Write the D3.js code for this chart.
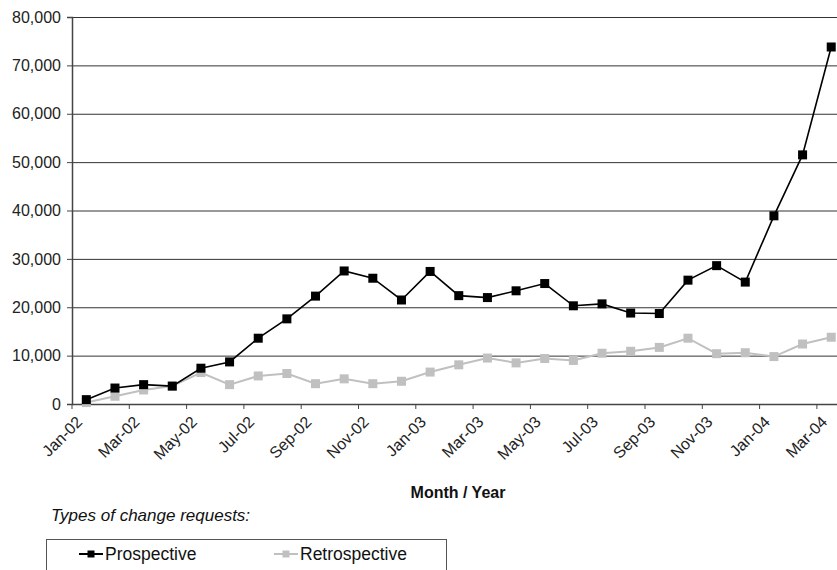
<!DOCTYPE html>
<html>
<head>
<meta charset="utf-8">
<script src="https://cdn.jsdelivr.net/npm/d3@7"></script>
<style>
  body { margin: 0; background: #fff; }
  svg { display: block; font-family: "Liberation Sans", Arial, sans-serif; }
</style>
</head>
<body>
<svg id="chart" width="837" height="570"></svg>
<script>
const months = ["Jan-02","Feb-02","Mar-02","Apr-02","May-02","Jun-02","Jul-02","Aug-02","Sep-02","Oct-02","Nov-02","Dec-02",
  "Jan-03","Feb-03","Mar-03","Apr-03","May-03","Jun-03","Jul-03","Aug-03","Sep-03","Oct-03","Nov-03","Dec-03",
  "Jan-04","Feb-04","Mar-04"];
const prospective = [900, 3300, 4000, 3700, 7400, 8700, 13600, 17600, 22300, 27500, 26000, 21500,
  27400, 22400, 22000, 23400, 24900, 20300, 20700, 18800, 18700, 25600, 28600, 25200,
  38900, 51500, 73800];
const retrospective = [300, 1600, 2900, 3700, 6500, 4000, 5800, 6300, 4200, 5200, 4200, 4700,
  6600, 8100, 9500, 8500, 9400, 9000, 10500, 10900, 11700, 13600, 10400, 10600,
  9800, 12400, 13800];
const yTicks = [0, 10000, 20000, 30000, 40000, 50000, 60000, 70000, 80000];
const xLabels = months.filter((d, i) => i % 2 === 0);

const m = { top: 17, left: 72, bottom: 404 };
const band = 28.65;
const w = months.length * band;
const font = "Liberation Sans, Arial, sans-serif";

const svg = d3.select("#chart");

const x = d3.scaleBand().domain(months).range([m.left, m.left + w]).padding(0);
const y = d3.scaleLinear().domain([0, 80000]).range([m.bottom, m.top]);
const cx = d => x(d) + x.bandwidth() / 2;

// gridlines
svg.append("g")
  .attr("transform", "translate(" + m.left + ",0)")
  .call(d3.axisLeft(y).tickValues(yTicks.slice(1)).tickSize(-w).tickFormat(""))
  .call(g => g.select(".domain").remove())
  .selectAll("line").attr("stroke", "#333").attr("stroke-width", 1);

// y axis
svg.append("g")
  .attr("transform", "translate(" + m.left + ",0)")
  .call(d3.axisLeft(y).tickValues(yTicks).tickSize(5).tickPadding(6).tickFormat(d3.format(",")))
  .call(g => g.select(".domain").attr("stroke", "#444").attr("stroke-width", 1.5))
  .call(g => g.selectAll("line").attr("stroke", "#444"))
  .call(g => g.selectAll("text").attr("font-size", 16).attr("fill", "#222").attr("font-family", font));

// x axis
const xAxis = svg.append("g")
  .attr("transform", "translate(0," + m.bottom + ")")
  .call(d3.axisBottom(x).tickValues(xLabels).tickSize(0).tickPadding(0))
  .call(g => g.select(".domain").attr("stroke", "#444").attr("stroke-width", 1.5));
xAxis.selectAll(".tick text")
  .attr("font-size", 16).attr("fill", "#222").attr("font-family", font)
  .attr("text-anchor", "end")
  .attr("dy", null).attr("y", 0)
  .attr("transform", "translate(-3,19) rotate(-45)");
xAxis.selectAll(".tick").each(function(d) {
  d3.select(this).append("line")
    .attr("x1", -x.bandwidth() / 2).attr("x2", -x.bandwidth() / 2)
    .attr("y1", 0).attr("y2", 5)
    .attr("stroke", "#444");
});

const line = d3.line().x((d, i) => cx(months[i])).y(d => y(d));

function series(data, color, lw) {
  svg.append("path").datum(data)
    .attr("fill", "none").attr("stroke", color).attr("stroke-width", lw)
    .attr("d", line);
  svg.append("g").selectAll("rect").data(data).join("rect")
    .attr("x", (d, i) => cx(months[i]) - 4.5)
    .attr("y", d => y(d) - 4.5)
    .attr("width", 9).attr("height", 9)
    .attr("fill", color);
}
series(retrospective, "#c0c0c0", 2);
series(prospective, "#000", 1.6);

// titles
svg.append("text").attr("x", 458).attr("y", 498)
  .attr("text-anchor", "middle").attr("font-size", 16).attr("font-weight", "bold").attr("fill", "#111")
  .text("Month / Year");
svg.append("text").attr("x", 51).attr("y", 521)
  .attr("font-size", 17).attr("font-style", "italic").attr("fill", "#111")
  .text("Types of change requests:");

// legend
svg.append("rect").attr("x", 46.5).attr("y", 539.5).attr("width", 400).attr("height", 60)
  .attr("fill", "none").attr("stroke", "#555").attr("stroke-width", 1);
const legend = [
  { name: "Prospective", color: "#000", x: 79 },
  { name: "Retrospective", color: "#c0c0c0", x: 274 }
];
const lg = svg.append("g").selectAll("g").data(legend).join("g")
  .attr("transform", d => "translate(" + d.x + ",554)");
lg.append("line").attr("x1", 0).attr("x2", 24).attr("y1", 0).attr("y2", 0)
  .attr("stroke", d => d.color).attr("stroke-width", 2);
lg.append("rect").attr("x", 8.5).attr("y", -3.5).attr("width", 7).attr("height", 7)
  .attr("fill", d => d.color);
lg.append("text").attr("x", 26).attr("y", 6).attr("font-size", 17.5).attr("fill", "#111")
  .text(d => d.name);
</script>
</body>
</html>
